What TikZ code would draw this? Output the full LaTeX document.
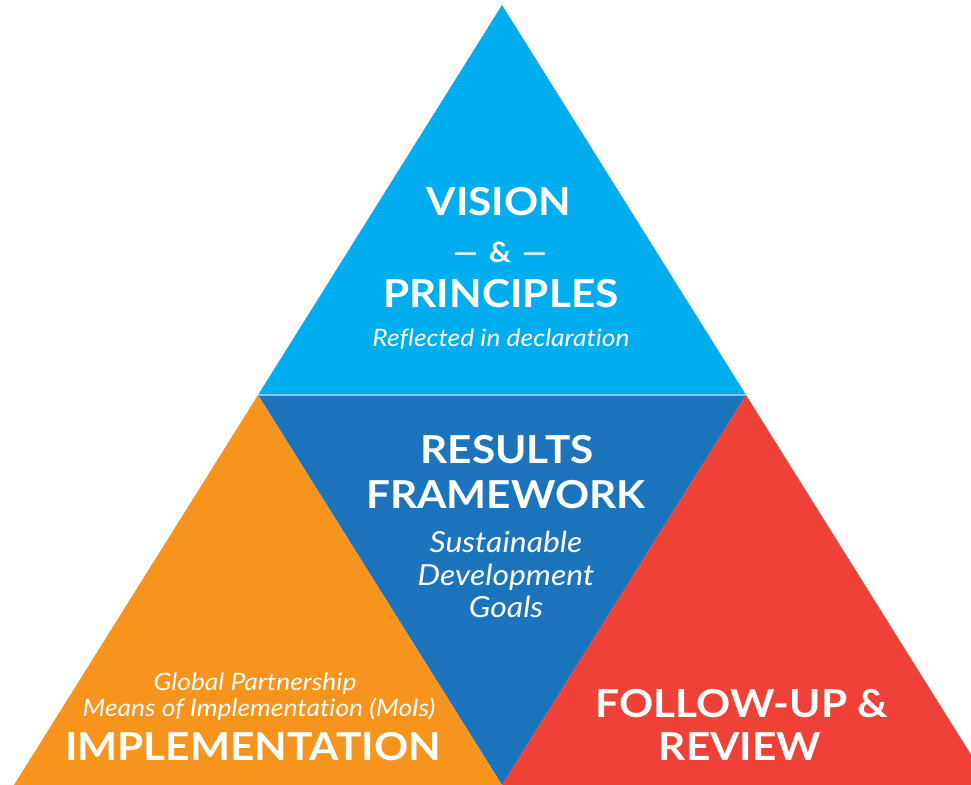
\documentclass[tikz,border=0pt]{standalone}
\usepackage{fontspec}
\setmainfont{Lato}[FakeStretch=1.1,Ligatures=NoCommon]
\definecolor{cLightBlue}{HTML}{00AEEF}
\definecolor{cDarkBlue}{HTML}{1C75BC}
\definecolor{cOrange}{HTML}{F7941D}
\definecolor{cRed}{HTML}{EF4138}
\definecolor{cSep}{HTML}{6FD0F5}
\begin{document}
\begin{tikzpicture}[x=1pt,y=-1pt,
  head/.style={text=white,inner sep=0pt,anchor=base,font=\bfseries\fontsize{38.5}{42}\selectfont},
  sub/.style={text=white,inner sep=0pt,anchor=base,font=\itshape\fontsize{29}{32}\selectfont},
  small/.style={text=white,inner sep=0pt,anchor=base,font=\itshape\fontsize{24}{27}\selectfont}]
\useasboundingbox (0,0) rectangle (971,784);
\coordinate (apex) at (502,5);
\coordinate (ml) at (258,395);
\coordinate (mr) at (746,395);
\coordinate (bm) at (502,785);
\coordinate (bl) at (14,785);
\coordinate (br) at (990,785);
\fill[cLightBlue] (apex) -- (mr) -- (ml) -- cycle;
\fill[cDarkBlue] (ml) -- (mr) -- (bm) -- cycle;
\fill[cOrange] (ml) -- (bm) -- (bl) -- cycle;
\fill[cRed] (mr) -- (br) -- (bm) -- cycle;
\draw[cSep,line width=1.6pt] (ml) -- (mr);
% top
\node[head] (vision) at (499,215) {VISION};
\node[head,font=\bfseries\fontsize{28}{32}\selectfont] (amp) at (500,262) {—\hspace{11pt}\&\hspace{11pt}—};
\node[head] (principles) at (501,307) {PRINCIPLES};
\node[small] (reflected) at (501,346) {Reflected in declaration};
% middle
\node[head] (results) at (507,463) {RESULTS};
\node[head] (framework) at (506,508) {FRAMEWORK};
\node[sub] (sust) at (506,552) {Sustainable};
\node[sub] (dev) at (506,585) {Development};
\node[sub] (goals) at (506,617) {Goals};
% left
\node[small] (global) at (255,690) {Global Partnership};
\node[small] (means) at (259,716) {Means of Implementation (MoIs)};
\node[head] (impl) at (253,760) {IMPLEMENTATION};
% right
\node[head] (follow) at (742,717) {FOLLOW-UP \&};
\node[head] (review) at (740,760) {REVIEW};
\end{tikzpicture}
\end{document}
